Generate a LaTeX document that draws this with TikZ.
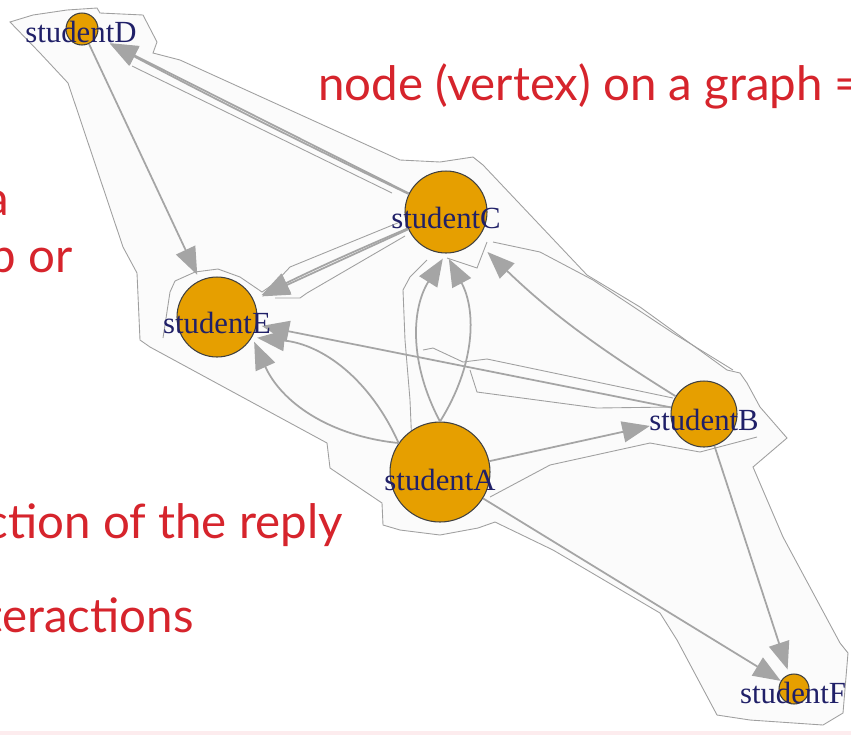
\documentclass[tikz,border=0pt]{standalone}
\usepackage{fontspec}
\setmainfont{Liberation Serif}
\newfontfamily\slidefont{Lato}
\usetikzlibrary{arrows.meta}
\definecolor{vorange}{RGB}{230,159,0}
\definecolor{lblnavy}{RGB}{32,32,104}
\definecolor{slidered}{RGB}{214,36,44}
\definecolor{edgegray}{RGB}{165,165,165}
\definecolor{hullgray}{RGB}{160,160,160}
\definecolor{hullfill}{RGB}{251,251,251}
\definecolor{pinkline}{RGB}{253,236,238}
\tikzset{
  vtx/.style={circle, draw=black!75, fill=vorange, line width=0.6pt, inner sep=0pt},
  lbl/.style={text=lblnavy, inner sep=0pt, font=\fontsize{17.5}{18}\selectfont},
  edge/.style={draw=edgegray, line width=1pt, -{Triangle[length=0.55cm,width=0.42cm]}},
  hull/.style={draw=hullgray, line width=0.5pt},
  slide/.style={text=slidered, inner sep=0pt, font=\slidefont\fontsize{27}{30}\selectfont}
}
\begin{document}
\begin{tikzpicture}[x=0.02cm, y=-0.02cm]
  % 全体の枠
  \useasboundingbox (0,0) rectangle (851,735);
  \clip (0,0) rectangle (851,735);
  \fill[white] (0,0) rectangle (851,735);
  \fill[pinkline] (0,731) rectangle (851,735);
  % グループの外形
  \filldraw[hull, fill=hullfill] (10,22) -- (33,15) -- (67,10) -- (97,8) -- (100,13) -- (143,15)
    -- (157,42) -- (153,53) -- (180,60) -- (400,160) -- (440,162) -- (473,157) -- (483,165)
    -- (587,275) -- (640,307) -- (727,370) -- (740,373) -- (747,383) -- (760,407) -- (787,438)
    -- (753,467) -- (783,537) -- (840,643) -- (848,653) -- (843,713) -- (823,725) -- (750,720)
    -- (717,715) -- (677,640) -- (660,613) -- (553,550) -- (495,522) -- (478,528) -- (440,535)
    -- (400,530) -- (383,525) -- (382,503) -- (330,468) -- (327,443) -- (150,347) -- (140,340)
    -- (137,273) -- (123,247) -- (68,83) -- (40,53) -- cycle;
  % 内側の輪郭
  \draw[hull] (132,66) -- (392,193);
  \draw[hull] (163,338) -- (170,292) -- (175,281) -- (195,272) -- (218,269) -- (240,277)
    -- (262,292) -- (275,283) -- (290,267) -- (400,222);
  \draw[hull] (275,298) -- (300,298) -- (307,293) -- (405,236);
  \draw[hull] (427,260) -- (410,277) -- (403,290) -- (405,340) -- (410,400) -- (412,447);
  \draw[hull] (447,258) -- (477,268) -- (487,242);
  \draw[hull] (423,350) -- (433,348) -- (463,362) -- (487,359) -- (673,398);
  \draw[hull] (470,370) -- (477,392) -- (597,408) -- (673,407);
  \draw[hull] (493,242) -- (540,252) -- (593,280) -- (673,333) -- (733,370);
  \draw[hull] (490,497) -- (550,465) -- (650,443) -- (700,452) -- (757,437);
  % 頂点
  \node[vtx, minimum size=0.64cm] (D) at (82,29) {};
  \node[vtx, minimum size=1.64cm] (C) at (446,212) {};
  \node[vtx, minimum size=1.6cm] (E) at (217,317) {};
  \node[vtx, minimum size=2cm] (A) at (440,472) {};
  \node[vtx, minimum size=1.32cm] (B) at (704,414) {};
  \node[vtx, minimum size=0.6cm] (F) at (794,689) {};
  % 辺
  \draw[edge, shorten >=0.3cm] (C) to (D);
  \draw[edge, shorten >=0.3cm] (C) to[bend left=1] (D);
  \draw[edge, shorten >=0.12cm] (D) to (E);
  \draw[edge, shorten >=0.18cm] (C) to (E);
  \draw[edge, shorten >=0.18cm] (C) to[bend right=1.5] (E);
  \draw[edge, shorten >=0.12cm] (A.north) to[bend left=30] (C.south);
  \draw[edge, shorten >=0.12cm] (A.north) to[bend right=30] (C.south);
  \draw[edge, shorten >=0.32cm] (B) to[bend left=6] (C);
  \draw[edge, shorten >=0.1cm] (B) to (E);
  \draw[edge, shorten >=0.1cm] (A.145) to[bend right=30] (E.-30);
  \draw[edge, shorten >=0.1cm] (A.145) to[bend left=30] (E.-30);
  \draw[edge, shorten >=0.44cm] (A) to (B);
  \draw[edge] (A) to (F);
  \draw[edge, shorten >=0.1cm] (B) to (F);
  % 頂点ラベル
  \node[lbl] (Dlbl) at (81,32) {studentD};
  \node[lbl] (Clbl) at (446,218) {studentC};
  \node[lbl] (Elbl) at (217,323) {studentE};
  \node[lbl] (Albl) at (440,480) {studentA};
  \node[lbl] (Blbl) at (704,420) {studentB};
  \node[lbl] (Flbl) at (793,693) {studentF};
  % 説明文
  \node[slide, anchor=base west] (t1) at (318,100) {node (vertex) on a graph =};
  \node[slide, anchor=base east] (t2) at (9,215) {a};
  \node[slide, anchor=base east] (t3) at (73,272) {p or};
  \node[slide, anchor=base east] (t4) at (343,538) {ction of the reply};
  \node[slide, anchor=base east] (t5) at (194,632) {teractions};
\end{tikzpicture}
\end{document}
